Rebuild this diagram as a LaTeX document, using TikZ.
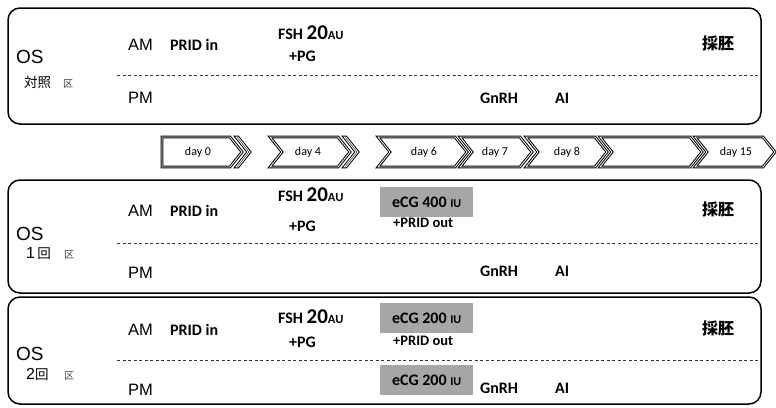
\documentclass[tikz,border=0pt]{standalone}
\usepackage{fontspec}
\setmainfont{Carlito}
\newfontfamily\arialf{Liberation Sans}
\newfontfamily\cjk{Noto Sans CJK JP}
\definecolor{egray}{RGB}{166,166,166}
\newcommand\mychev[3]{%
  \draw[chev] (#1,137) -- (#2,137) -- (#2+12,152) -- (#2,167) -- (#1,167) -- (#1+12,152) -- cycle;
  \coordinate (#3) at ({(#1+#2+12)/2},152);}
\begin{document}
\begin{tikzpicture}[x=1pt,y=-1pt,
  grp/.style={draw=black, line width=1.5pt, rounded corners=12pt},
  sep/.style={draw=black!80, line width=0.8pt, dash pattern=on 3pt off 2.5pt},
  chev/.style={draw=black, line width=1pt, double=white, double distance=0.8pt, line join=miter},
  t/.style={inner sep=0pt, anchor=base west},
  lb/.style={t, font=\bfseries\fontsize{16}{16}\selectfont},
  sm/.style={t, font=\bfseries\fontsize{14.5}{14.5}\selectfont},
  ap/.style={t, font=\arialf\fontsize{16.5}{16.5}\selectfont},
  os/.style={t, font=\arialf\fontsize{19}{19}\selectfont},
  jp/.style={t, font=\cjk\fontsize{13.5}{13.5}\selectfont},
  ku/.style={t, font=\cjk\fontsize{10}{10}\selectfont, text=black!75},
  sai/.style={t, font=\cjk\bfseries\fontsize{16}{16}\selectfont},
  dl/.style={inner sep=0pt, font=\fontsize{12}{12}\selectfont},
  gb/.style={fill=egray, inner sep=0pt, minimum width=93pt, minimum height=30pt, anchor=north west, font=\bfseries\fontsize{16}{16}\selectfont},
]
\useasboundingbox (0,0) rectangle (776,407);

% ---------- group boxes ----------
\draw[grp] (8,8) rectangle (761,124);
\draw[grp] (8,180) rectangle (761,293);
\draw[grp] (8,297) rectangle (761,404);

% dashed separators
\coordinate (s1a) at (117,75);  \coordinate (s1b) at (760,75);
\coordinate (s2a) at (117,243); \coordinate (s2b) at (760,243);
\coordinate (s3a) at (117,360); \coordinate (s3b) at (760,360);
\draw[sep] (s1a) -- (s1b);
\draw[sep] (s2a) -- (s2b);
\draw[sep] (s3a) -- (s3b);

% ---------- timeline chevrons ----------
\draw[chev] (162,137) -- (230,137) -- (242,152) -- (230,167) -- (162,167) -- cycle;
\node[dl] (d0) at (198,152) {day 0};
\mychev{236}{238}{c1}
\mychev{270}{338}{c2}
\node[dl] (d4) at (308,152) {day 4};
\mychev{344}{346}{c3}
\mychev{378}{455}{c4}
\node[dl] (d6) at (424,152) {day 6};
\mychev{460}{520}{c5}
\node[dl] (d7) at (495,152) {day 7};
\mychev{526}{595}{c6}
\node[dl] (d8) at (567,152) {day 8};
\mychev{600}{690}{c7}
\mychev{695}{763}{c8}
\node[dl] (d15) at (736,152) {day 15};

% ---------- box 1 : control ----------
\node[os] (os1) at (16,63.5) {OS};
\node[jp] (k1) at (24,87) {対照};
\node[ku] (q1) at (63,87) {区};
\node[ap] (am1) at (128,50) {AM};
\node[ap] (pm1) at (128,103) {PM};
\node[lb] (prid1) at (170,50.5) {PRID in};
\node[lb] (fsh1) at (278,39) {FSH {\fontsize{21}{21}\selectfont 20}{\fontsize{12.5}{12.5}\selectfont AU}};
\node[lb] (pg1) at (289,61.5) {+PG};
\node[sai] (sai1) at (702,49) {採胚};
\node[lb] (gn1) at (480,103) {GnRH};
\node[lb] (ai1) at (555,103) {AI};

% ---------- box 2 : 1 time ----------
\node[os] (os2) at (16,240) {OS};
\node[jp] (k2) at (26,258) {{\arialf\fontsize{16}{16}\selectfont 1}\,回};
\node[ku] (q2) at (64,258) {区};
\node[ap] (am2) at (128,216.5) {AM};
\node[ap] (pm2) at (128,278) {PM};
\node[lb] (prid2) at (170,216.5) {PRID in};
\node[lb] (fsh2) at (278,201.5) {FSH {\fontsize{21}{21}\selectfont 20}{\fontsize{12.5}{12.5}\selectfont AU}};
\node[lb] (pg2) at (289,231.5) {+PG};
\node[gb] (e2) at (380,187) {eCG 400 {\fontsize{12}{12}\selectfont IU}};
\node[sm] (po2) at (393,227.5) {+PRID out};
\node[sai] (sai2) at (702,215) {採胚};
\node[lb] (gn2) at (480,276.5) {GnRH};
\node[lb] (ai2) at (555,276.5) {AI};

% ---------- box 3 : 2 times ----------
\node[os] (os3) at (16,360) {OS};
\node[jp] (k3) at (26,379) {{\arialf\fontsize{16}{16}\selectfont 2}回};
\node[ku] (q3) at (64,379) {区};
\node[ap] (am3) at (128,335) {AM};
\node[ap] (pm3) at (128,395) {PM};
\node[lb] (prid3) at (170,335) {PRID in};
\node[lb] (fsh3) at (278,323) {FSH {\fontsize{21}{21}\selectfont 20}{\fontsize{12.5}{12.5}\selectfont AU}};
\node[lb] (pg3) at (289,347) {+PG};
\node[gb] (e3) at (380,303) {eCG 200 {\fontsize{12}{12}\selectfont IU}};
\node[sm] (po3) at (393,345) {+PRID out};
\node[gb] (e3b) at (380,365) {eCG 200 {\fontsize{12}{12}\selectfont IU}};
\node[sai] (sai3) at (702,334) {採胚};
\node[lb] (gn3) at (480,393) {GnRH};
\node[lb] (ai3) at (555,393) {AI};
\end{tikzpicture}
\end{document}
